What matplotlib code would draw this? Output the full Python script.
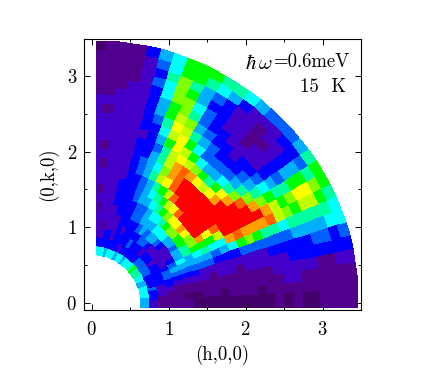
import numpy as np
import matplotlib
matplotlib.use("Agg")
import matplotlib.pyplot as plt
from matplotlib.colors import LinearSegmentedColormap
from matplotlib.patches import Rectangle
from matplotlib.ticker import MultipleLocator

# intensity levels (hex digit per cell), one string per ring, angle runs 0 -> 90 deg
ring_radius = [0.63, 0.75, 0.87, 0.99, 1.10, 1.22, 1.34, 1.46, 1.58, 1.69, 1.81, 1.93,
               2.05, 2.17, 2.28, 2.40, 2.52, 2.64, 2.76, 2.87, 2.99, 3.11, 3.23, 3.35, 3.47]
levels = [
    "556666556677787666566566656666",
    "233343333444444333333233333333",
    "112223333332333233343333233222",
    "111233443222222344333323222122",
    "111123454322234554543333222222",
    "101123456554556665554433322212",
    "001123455778899876654433332222",
    "011122456899bcbb98765543332212",
    "0111124578ceeeedba876543332222",
    "0011223468beeeeeeda87543322222",
    "011122356adeeeeeeedba754322212",
    "01111236ceeeeeeeeedc9654322222",
    "01112248deeeecbabcdca753322212",
    "00112249ceeecb8789aba743322222",
    "01112248ceed9765568ab853222222",
    "11122347cec975444468ba63322222",
    "01222347dc9754333457ab74322212",
    "1122334 6aa864332334 59a85322222".replace(" ", ""),
    "011233579875322223347985322211",
    "011233578974322122346996322111",
    "11113457ab85321122335896421111",
    "11113457ab85322122345797321111",
    "111233678974332223567886421111",
    "111234667887544456778886531110",
]

level_colors = ["#420068", "#50008c", "#4400c8", "#0000ff", "#0060ff", "#00b0ff", "#00ffff",
                "#00ffa0", "#00ff00", "#80ff00", "#c0ff00", "#ffff00", "#ffa000", "#ff6000",
                "#ff0000"]

plt.rcParams["font.family"] = "cmr10"
plt.rcParams["axes.formatter.use_mathtext"] = True
plt.rcParams["mathtext.fontset"] = "cm"

values = np.array([[int(c, 16) for c in row] for row in levels], dtype=float)
n_angles = values.shape[1]
angle_edges = np.arange(n_angles + 1) * 3.0
angle_edges[0] = -8
angle_edges[-1] = 92

r, t = np.meshgrid(ring_radius, np.radians(angle_edges), indexing="ij")
x = r * np.cos(t)
y = r * np.sin(t)

cmap = LinearSegmentedColormap.from_list("rainbow_idl", level_colors, N=15)

fig = plt.figure(figsize=(4.26, 3.88), dpi=100)
ax = fig.add_axes([84 / 426, 1 - 310 / 388, 277 / 426, 271 / 388])
mesh = ax.pcolormesh(x, y, values, cmap=cmap, vmin=-0.5, vmax=14.5, shading="flat",
                     edgecolors="none", linewidth=0)
ax.set_xlim(-0.10, 3.50)
ax.set_ylim(-0.097, 3.49)
clip = Rectangle((0.05, -0.07), 3.45, 3.6, transform=ax.transData)
mesh.set_clip_path(clip)

ax.xaxis.set_major_locator(MultipleLocator(1))
ax.yaxis.set_major_locator(MultipleLocator(1))
ax.xaxis.set_minor_locator(MultipleLocator(0.5))
ax.yaxis.set_minor_locator(MultipleLocator(0.5))
ax.tick_params(which="major", direction="in", top=True, right=True, length=4.5, width=0.7,
               labelsize=13.5)
ax.tick_params(axis="x", which="major", pad=8)
ax.tick_params(axis="y", which="major", pad=5)
ax.tick_params(which="minor", direction="in", top=True, right=True, length=2.5, width=0.7)
for s in ax.spines.values():
    s.set_linewidth(0.8)

ax.set_xlabel("(h,0,0)", fontsize=13.5, labelpad=4)
ax.set_ylabel("(0,k,0)", fontsize=13.5, labelpad=6)

ax.text(3.36, 3.18, "=0.6meV", ha="right", va="center", fontsize=13.5)
ax.text(2.36, 3.17, r"$\hbar\,\omega$", ha="right", va="center", fontsize=15)
ax.text(3.30, 2.86, "15  K", ha="right", va="center", fontsize=13.5)

fig.savefig("out.png", dpi=100)
